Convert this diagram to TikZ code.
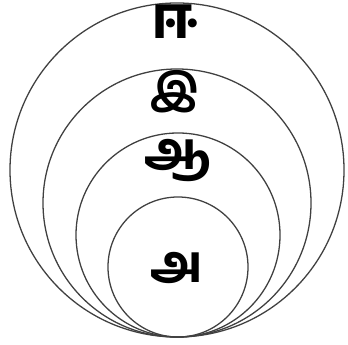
\documentclass[tikz,border=0pt]{standalone}
\usepackage{fontspec}
\newfontfamily\tamilfont[Script=Tamil]{Hind Madurai Bold}
\usepackage{tikz}
\usetikzlibrary{positioning}

\begin{document}
\begin{tikzpicture}[
    x=0.03cm, y=0.03cm,
    ring/.style={draw=black!75, circle, line width=1.1pt, inner sep=0pt, outer sep=0pt},
    letter/.style={font=\tamilfont\fontsize{44}{50}\selectfont, inner sep=0pt}
]
    \useasboundingbox (0,0) rectangle (348,344);

    % Circles, all touching at the bottom
    \node[ring, minimum size=10.02cm] (outer) at (177,174) {};
    \node[ring, minimum size=8.04cm] (second) at (177,141) {};
    \node[ring, minimum size=6.12cm] (third) at (178,109) {};
    \node[ring, minimum size=4.2cm] (inner) at (178,77) {};

    % Letters
    \node[letter, font=\tamilfont\fontsize{50}{56}\selectfont] (ii) at (175,322) {ஈ};
    \node[letter, font=\tamilfont\fontsize{36}{42}\selectfont] (i) at (175,252) {இ};
    \node[letter] (aa) at (178,183) {ஆ};
    \node[letter] (a) at (177,76) {அ};

\end{tikzpicture}
\end{document}
